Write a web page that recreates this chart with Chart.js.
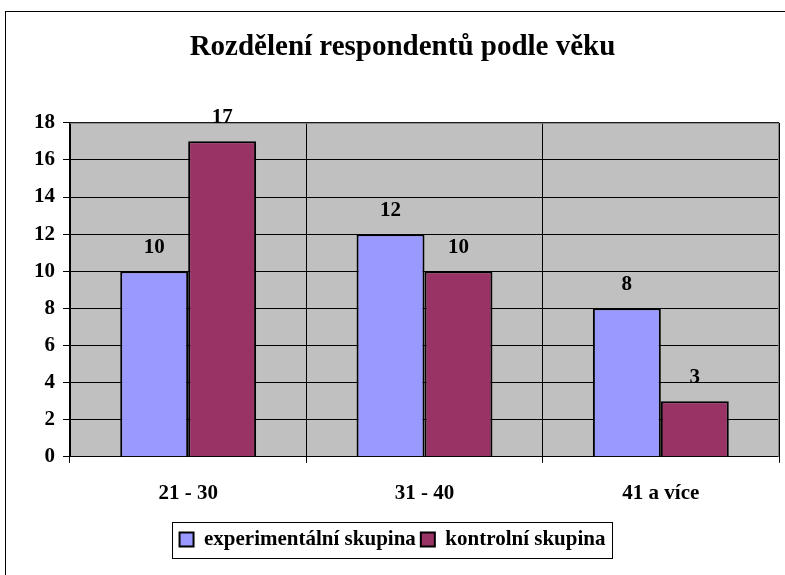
<!DOCTYPE html>
<html>
<head>
<meta charset="utf-8">
<script src="https://cdn.jsdelivr.net/npm/chart.js@4/dist/chart.umd.min.js"></script>
<style>
  body { margin: 0; background: #fff; }
  #wrap { width: 785px; height: 575px; position: relative; }
</style>
</head>
<body>
<div id="wrap"><canvas id="chart" width="785" height="575"></canvas></div>
<script>
// data
const categories = ['21 - 30', '31 - 40', '41 a více'];
const experimental = [10, 12, 8];
const control = [17, 10, 3];
const seriesNames = ['experimentální skupina', 'kontrolní skupina'];

const serif = '"Liberation Serif", "Times New Roman", serif';

// gray plot area + outer frame + legend frame + value labels
const excelLook = {
    id: 'excelLook',
    afterLayout(chart) {
        // legend sits a bit left of the title centre in the original
        chart.legend.left -= 10;
        chart.legend.right -= 10;
    },
    beforeDraw(chart) {
        const { ctx, chartArea: a } = chart;
        ctx.save();
        ctx.fillStyle = '#fff';
        ctx.fillRect(0, 0, chart.width, chart.height);
        ctx.strokeStyle = '#000';
        ctx.lineWidth = 1;
        ctx.strokeRect(5.5, 11.5, chart.width + 10, chart.height + 10);
        ctx.fillStyle = '#C0C0C0';
        ctx.fillRect(a.left, a.top, a.right - a.left, a.bottom - a.top);
        ctx.restore();
    },
    afterDatasetsDraw(chart) {
        const { ctx, chartArea: a } = chart;
        ctx.save();
        // gray border top/right of plot
        ctx.strokeStyle = '#808080';
        ctx.lineWidth = 1;
        ctx.beginPath();
        ctx.moveTo(a.left, a.top + 0.5);
        ctx.lineTo(a.right - 0.5, a.top + 0.5);
        ctx.lineTo(a.right - 0.5, a.bottom);
        ctx.stroke();
        // value labels
        ctx.fillStyle = '#000';
        ctx.font = 'bold 21px ' + serif;
        ctx.textAlign = 'center';
        ctx.textBaseline = 'bottom';
        chart.data.datasets.forEach((ds, i) => {
            chart.getDatasetMeta(i).data.forEach((bar, j) => {
                ctx.fillText(ds.data[j], bar.x, bar.y - 13);
            });
        });
        ctx.restore();
    },
    afterDraw(chart) {
        const boxes = chart.legend.legendHitBoxes;
        if (!boxes || !boxes.length) return;
        const { ctx } = chart;
        let l = Infinity, r = -Infinity, t = Infinity, b = -Infinity;
        boxes.forEach(h => {
            l = Math.min(l, h.left); r = Math.max(r, h.left + h.width);
            t = Math.min(t, h.top); b = Math.max(b, h.top + h.height);
        });
        const cy = Math.round((t + b) / 2);
        ctx.save();
        ctx.strokeStyle = '#000';
        ctx.lineWidth = 1;
        ctx.strokeRect(Math.round(l - 8) + 0.5, cy - 18 + 0.5, Math.round(r - l + 14), 36);
        ctx.restore();
    }
};

new Chart(document.getElementById('chart').getContext('2d'), {
    type: 'bar',
    data: {
        labels: categories,
        datasets: [
            { label: seriesNames[0], data: experimental, backgroundColor: '#9999FF', borderColor: '#000', borderWidth: 2 },
            { label: seriesNames[1], data: control, backgroundColor: '#993366', borderColor: '#000', borderWidth: 2 }
        ]
    },
    options: {
        responsive: false,
        animation: false,
        layout: { padding: { left: 26, right: 6, top: 0, bottom: 15 } },
        datasets: { bar: { categoryPercentage: 0.575, barPercentage: 1.0 } },
        plugins: {
            title: {
                display: true,
                text: 'Rozdělení respondentů podle věku',
                color: '#000',
                font: { family: serif, size: 29, weight: 'bold' },
                padding: { top: 30, bottom: 58 }
            },
            legend: {
                position: 'bottom',
                labels: {
                    color: '#000',
                    font: { family: serif, size: 21, weight: 'bold' },
                    boxWidth: 14,
                    boxHeight: 14,
                    padding: 5
                }
            },
            tooltip: { enabled: false }
        },
        scales: {
            x: {
                offset: true,
                grid: { offset: true, color: '#000', tickLength: 6, drawTicks: true },
                border: { color: '#000', width: 1 },
                ticks: { color: '#000', font: { family: serif, size: 21, weight: 'bold' }, padding: 18 }
            },
            y: {
                min: 0, max: 18,
                grid: { color: '#000', tickLength: 7 },
                border: { color: '#000', width: 1 },
                ticks: { stepSize: 2, color: '#000', font: { family: serif, size: 21, weight: 'bold' }, padding: 8 }
            }
        }
    },
    plugins: [excelLook]
});
</script>
</body>
</html>
